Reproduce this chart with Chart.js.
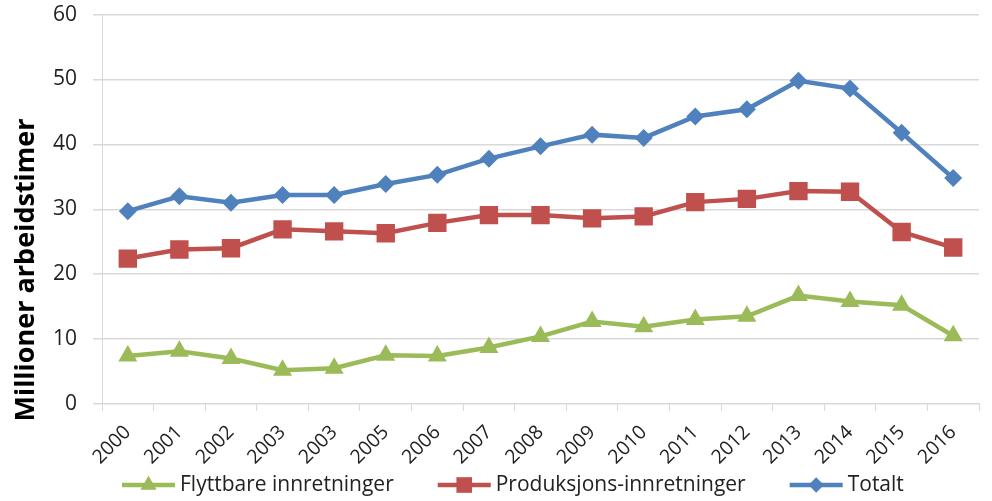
<!DOCTYPE html>
<html>
<head>
<meta charset="utf-8">
<script src="https://cdn.jsdelivr.net/npm/chart.js@4/dist/chart.umd.min.js"></script>
<style>
  html, body { margin: 0; padding: 0; background: #fff; }
  canvas { display: block; }
</style>
</head>
<body>
<canvas id="hoursChart" width="992" height="501"></canvas>
<script>
// --- Data ---
const years = ['2000', '2001', '2002', '2003', '2003', '2005', '2006', '2007', '2008',
               '2009', '2010', '2011', '2012', '2013', '2014', '2015', '2016'];
const flyttbare = [7.4, 8.1, 7.0, 5.2, 5.5, 7.5, 7.4, 8.7, 10.4, 12.7, 11.9, 13.0, 13.5, 16.7, 15.8, 15.2, 10.5];
const produksjon = [22.4, 23.8, 24.0, 26.9, 26.6, 26.3, 27.9, 29.1, 29.1, 28.6, 28.9, 31.1, 31.6, 32.8, 32.7, 26.5, 24.1];
const totalt = [29.7, 32.0, 31.0, 32.2, 32.2, 33.9, 35.3, 37.8, 39.7, 41.5, 41.0, 44.3, 45.4, 49.8, 48.6, 41.8, 34.8];
const yTicks = [0, 10, 20, 30, 40, 50, 60];
const seriesNames = ['Flyttbare innretninger', 'Produksjons-innretninger', 'Totalt'];

const FONT = '"Open Sans", Lato, sans-serif';
const GREEN = '#9bbb59';
const RED = '#c0504d';
const BLUE = '#4f81bd';
const TEXT = '#222';

// marker settings per series (same order as seriesNames)
const markers = [
    { color: GREEN, style: 'triangle', radius: 11 },
    { color: RED, style: 'rect', radius: 13 },
    { color: BLUE, style: 'rectRot', radius: 9 }
];

// y axis title, placed where Excel put it (centred lower than the plot)
const axisTitlePlugin = {
    id: 'axisTitle',
    afterDraw(chart) {
        const ctx = chart.ctx;
        ctx.save();
        ctx.translate(26, 270);
        ctx.rotate(-Math.PI / 2);
        ctx.font = 'bold 27px ' + FONT;
        ctx.fillStyle = '#000';
        ctx.textAlign = 'center';
        ctx.textBaseline = 'middle';
        ctx.fillText('Millioner arbeidstimer', 0, 0);
        ctx.restore();
    }
};

// Excel-style legend: short line with the marker in the middle, then the name
const lineLegendPlugin = {
    id: 'lineLegend',
    afterDraw(chart) {
        const ctx = chart.ctx;
        const y = 485;
        let x = 122;
        ctx.save();
        ctx.font = '21px ' + FONT;
        ctx.textBaseline = 'middle';
        ctx.textAlign = 'left';
        chart.data.datasets.forEach((ds, i) => {
            const m = markers[i];
            ctx.strokeStyle = m.color;
            ctx.fillStyle = m.color;
            ctx.lineWidth = 4.5;
            ctx.beginPath();
            ctx.moveTo(x, y);
            ctx.lineTo(x + 53, y);
            ctx.stroke();
            Chart.helpers.drawPoint(ctx, { pointStyle: m.style, radius: m.radius * 0.85, rotation: 0, borderWidth: 0 }, x + 26.5, y);
            ctx.fillStyle = TEXT;
            ctx.fillText(ds.label, x + 58, y);
            x += 58 + ctx.measureText(ds.label).width + 44;
        });
        ctx.restore();
    }
};

document.addEventListener('DOMContentLoaded', () => {
    const ctx = document.getElementById('hoursChart').getContext('2d');

    const seriesData = [flyttbare, produksjon, totalt];
    const datasets = seriesData.map((values, i) => ({
        label: seriesNames[i],
        data: values,
        borderColor: markers[i].color,
        backgroundColor: markers[i].color,
        borderWidth: 4.5,
        pointStyle: markers[i].style,
        pointRadius: markers[i].radius,
        pointBorderWidth: 0,
        tension: 0
    }));

    new Chart(ctx, {
        type: 'line',
        data: { labels: years, datasets: datasets },
        options: {
            responsive: false,
            animation: false,
            layout: { padding: { left: 51, top: 4, right: 0, bottom: 22 } },
            scales: {
                x: {
                    offset: true,
                    grid: {
                        offset: true,
                        drawOnChartArea: false,
                        drawTicks: true,
                        tickLength: 7,
                        color: '#d9d9d9'
                    },
                    border: { color: '#d9d9d9', width: 1 },
                    ticks: {
                        minRotation: 45,
                        maxRotation: 45,
                        autoSkip: false,
                        padding: 10,
                        color: TEXT,
                        font: { family: FONT, size: 19.5 }
                    }
                },
                y: {
                    min: 0,
                    max: 60,
                    afterBuildTicks: (scale) => { scale.ticks = yTicks.map(v => ({ value: v })); },
                    grid: {
                        color: '#d9d9d9',
                        lineWidth: 1.5,
                        // long tick, only the last 9px visible, leaves room before the labels
                        tickLength: 23,
                        tickBorderDash: [0, 14, 9, 0]
                    },
                    border: { color: '#d9d9d9', width: 1 },
                    ticks: {
                        padding: 2,
                        color: TEXT,
                        font: { family: FONT, size: 21 }
                    }
                }
            },
            plugins: {
                legend: { display: false },
                tooltip: { enabled: false }
            }
        },
        plugins: [axisTitlePlugin, lineLegendPlugin]
    });
});
</script>
</body>
</html>
